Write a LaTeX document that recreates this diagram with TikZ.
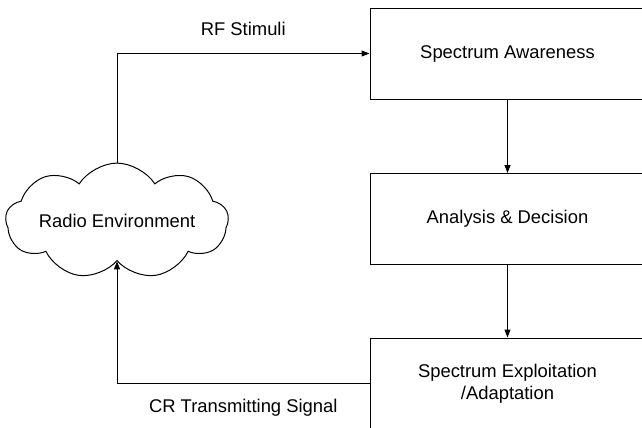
\documentclass[tikz,border=0pt]{standalone}
\usepackage{fontspec}
\setmainfont{Liberation Sans}
\usetikzlibrary{shapes.symbols,arrows.meta}

\begin{document}
\begin{tikzpicture}[x=0.5pt,y=-0.5pt,line width=0.5pt,
    font=\fontsize{9.2}{11}\selectfont,
    block/.style={draw,minimum width=137.5pt,minimum height=45.5pt,
      inner sep=0pt,align=center},
    wolke/.style={cloud,draw,cloud puffs=9,cloud puff arc=115,aspect=2.8,
      inner sep=0pt},
    pfeil/.style={-{Triangle[length=4pt,width=3pt]}}]
  \useasboundingbox (0,0) rectangle (642,428);
  % Bloecke
  \node[block] (aware) at (507.5,53.5) {Spectrum Awareness};
  \node[block] (decide) at (507.5,219) {Analysis \& Decision};
  \node[block] (exploit) at (507.5,383.5) {Spectrum Exploitation\\/Adaptation};
  % Funkumgebung
  \node[wolke] (env) at (117,221) {Radio Environment};
  % Verbindungen
  \draw[pfeil] (env.north) |- node[pos=0.75,yshift=12.5pt] {RF Stimuli} (aware.west);
  \draw[pfeil] (aware) -- (decide);
  \draw[pfeil] (decide) -- (exploit);
  \draw[pfeil] (exploit.west) -| node[pos=0.25,yshift=-12pt] {CR Transmitting Signal} (env.south);
\end{tikzpicture}
\end{document}
